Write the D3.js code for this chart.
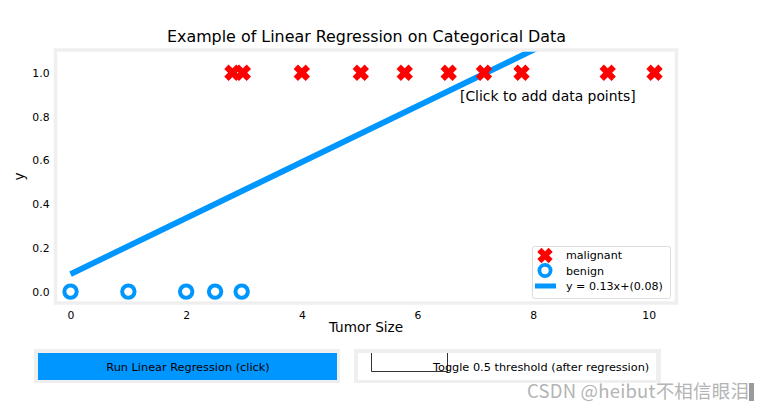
<!DOCTYPE html>
<html><head><meta charset="utf-8">
<script src="https://cdn.jsdelivr.net/npm/d3@7"></script>
<style>
html,body{margin:0;padding:0;background:#fff;}
svg{display:block;font-family:"DejaVu Sans",sans-serif;}
</style></head>
<body>
<svg id="c" width="767" height="411"></svg>
<script>
// ---- data ----
const malignantX = [2.8, 2.98, 4.0, 5.02, 5.78, 6.54, 7.15, 7.8, 9.29, 10.1];
const malignantY = [1, 1, 1, 1, 1, 1, 1, 1, 1, 1];
const benignX = [0, 1, 2, 2.5, 2.96];
const benignY = [0, 0, 0, 0, 0];
const slope = 0.128;
const intercept = 0.08;
const lineLabel = "y = 0.13x+(0.08)";
const xTicks = [0, 2, 4, 6, 8, 10];
const yTicks = [0.0, 0.2, 0.4, 0.6, 0.8, 1.0];
const legendLabels = ["malignant", "benign", lineLabel];
const titleText = "Example of Linear Regression on Categorical Data";
const xLabel = "Tumor Size";
const yLabel = "y";
const clickText = "[Click to add data points]";
const button1Text = "Run Linear Regression (click)";
const button2Text = "Toggle 0.5 threshold (after regression)";
const watermark = "CSDN @heibut不相信眼泪";

const dlblue = "#0096ff", red = "#ff0000", frame = "#efefef";
const svg = d3.select("#c");
const L = 55.5, R = 676.5, T = 50, B = 303;
const x = d3.scaleLinear().domain([-0.26, 10.48]).range([L, R]);
const y = d3.scaleLinear().domain([-0.052, 1.104]).range([B, T]);

svg.append("defs").append("clipPath").attr("id", "clip")
  .append("rect").attr("x", L).attr("y", T).attr("width", R - L).attr("height", B - T);

// title
svg.append("text").attr("x", 366.5).attr("y", 41.5).attr("text-anchor", "middle")
  .attr("font-size", 15.9).attr("fill", "#000").text(titleText);

// axes (no tick marks)
const xAxis = svg.append("g").attr("transform", `translate(0,${B})`)
  .call(d3.axisBottom(x).tickValues(xTicks).tickFormat(d3.format("d")).tickSize(0).tickPadding(8));
const yAxis = svg.append("g").attr("transform", `translate(${L},0)`)
  .call(d3.axisLeft(y).tickValues(yTicks).tickFormat(d3.format(".1f")).tickSize(0).tickPadding(6));
[xAxis, yAxis].forEach(g => {
  g.select(".domain").remove();
  g.selectAll("text").attr("font-size", 10.8).attr("fill", "#000").attr("font-family", "DejaVu Sans");
});

svg.append("text").attr("x", 366).attr("y", 332).attr("text-anchor", "middle")
  .attr("font-size", 13.6).text(xLabel);
svg.append("text").attr("transform", `translate(24,${(T + B) / 2}) rotate(-90)`)
  .attr("text-anchor", "middle").attr("font-size", 13.6).text(yLabel);

const plot = svg.append("g").attr("clip-path", "url(#clip)");

// regression line
const lx = [0, 10.1];
plot.append("line")
  .attr("x1", x(lx[0])).attr("y1", y(slope * lx[0] + intercept))
  .attr("x2", x(lx[1])).attr("y2", y(slope * lx[1] + intercept))
  .attr("stroke", dlblue).attr("stroke-width", 5.8);

function drawX(g, cx, cy, s) {
  const h = s / 2;
  g.append("g").attr("transform", `translate(${cx},${cy}) rotate(45)`)
    .call(gg => {
      gg.append("rect").attr("x", -h).attr("y", -h * 0.36).attr("width", 2 * h).attr("height", h * 0.72).attr("fill", red);
      gg.append("rect").attr("x", -h * 0.36).attr("y", -h).attr("width", h * 0.72).attr("height", 2 * h).attr("fill", red);
    });
}

malignantX.forEach((v, i) => drawX(plot, x(v), y(malignantY[i]), 17));
plot.selectAll("circle.b").data(benignX).join("circle").attr("class", "b")
  .attr("cx", d => x(d)).attr("cy", (d, i) => y(benignY[i]))
  .attr("r", 6.2).attr("fill", "none").attr("stroke", dlblue).attr("stroke-width", 4);

// frame
svg.append("rect").attr("x", L).attr("y", T).attr("width", R - L).attr("height", B - T)
  .attr("fill", "none").attr("stroke", frame).attr("stroke-width", 3.5);

// click text
svg.append("text").attr("x", 460).attr("y", 100.5).attr("font-size", 13.9).attr("fill", "#000").text(clickText);

// legend
const lg = svg.append("g");
lg.append("rect").attr("x", 532.5).attr("y", 246.5).attr("width", 138).attr("height", 52).attr("rx", 2)
  .attr("fill", "#fff").attr("stroke", "#dddddd").attr("stroke-width", 1);
drawX(lg, 545, 255.5, 16);
lg.append("circle").attr("cx", 545).attr("cy", 270.5).attr("r", 5.6).attr("fill", "none")
  .attr("stroke", dlblue).attr("stroke-width", 3.8);
lg.append("line").attr("x1", 535).attr("x2", 556).attr("y1", 286).attr("y2", 286)
  .attr("stroke", dlblue).attr("stroke-width", 5);
legendLabels.forEach((t, i) => lg.append("text").attr("x", 566).attr("y", 259 + i * 15.5)
  .attr("font-size", 11.1).text(t));

// buttons
svg.append("rect").attr("x", 34).attr("y", 349).attr("width", 306).attr("height", 34).attr("fill", frame);
svg.append("rect").attr("x", 38).attr("y", 353).attr("width", 299).attr("height", 27).attr("fill", dlblue);
svg.append("text").attr("x", 188).attr("y", 370.5).attr("text-anchor", "middle").attr("font-size", 11.3)
  .text(button1Text);

svg.append("rect").attr("x", 354).attr("y", 349).attr("width", 307).attr("height", 34).attr("fill", frame);
svg.append("rect").attr("x", 358).attr("y", 353).attr("width", 298).attr("height", 27).attr("fill", "#fff");
svg.append("path").attr("d", "M371.5,353V371.5H447.5V353").attr("fill", "none").attr("stroke", "#333").attr("stroke-width", 1);
svg.append("text").attr("x", 433).attr("y", 370.5).attr("font-size", 11.3).text(button2Text);

// watermark
svg.append("text").attr("x", 527).attr("y", 398).attr("font-size", 18.5).attr("fill", "#b4b4b4")
  .attr("font-family", "Noto Sans CJK SC, DejaVu Sans, sans-serif").attr("textLength", 222).text(watermark);
svg.append("rect").attr("x", 749).attr("y", 383).attr("width", 5).attr("height", 18).attr("fill", "#9a9a9a");
</script>
</body></html>
